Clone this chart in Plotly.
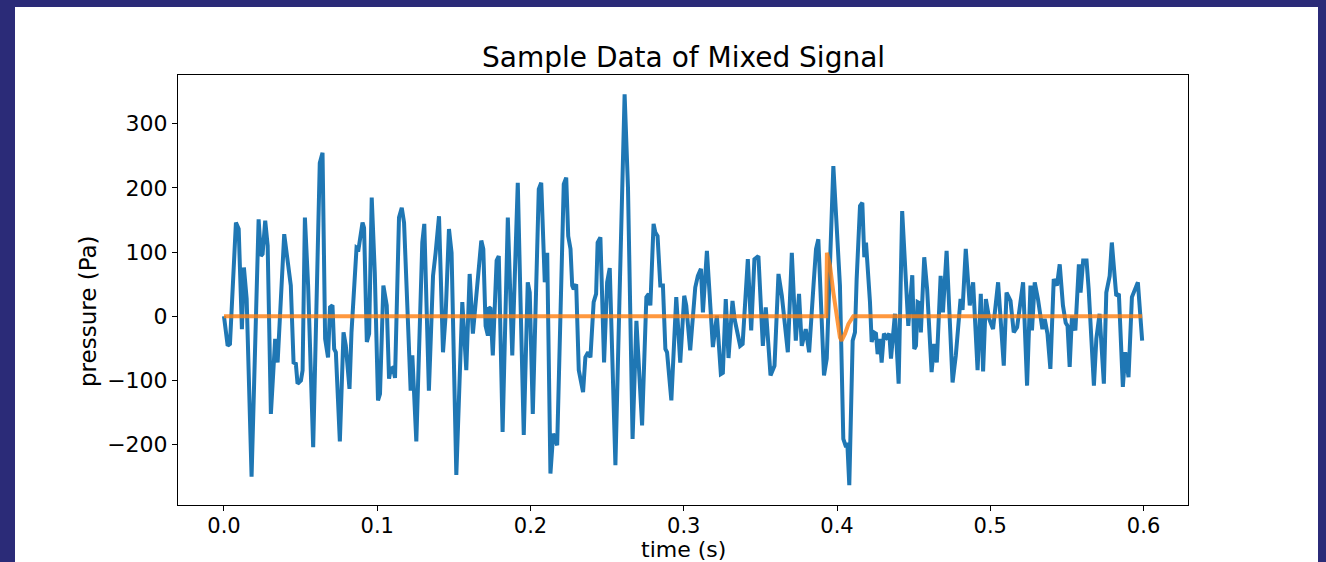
import plotly.graph_objects as go

# Mixed signal (blue): time in ms, pressure in Pa
mixed_t_ms = [0.0, 2.4, 3.9, 7.8, 9.6, 11.7, 13.0, 14.8, 18.0, 22.6, 24.1, 25.2, 26.9, 28.5, 30.6, 33.4, 35.0,
              39.3, 43.6, 45.4, 46.9, 48.0, 50.2, 51.3, 52.8, 54.9, 58.2, 62.5, 64.3, 66.0, 67.9, 69.2, 70.8,
              71.9, 73.0, 75.6, 78.0, 79.5, 81.9, 83.2, 86.5, 87.8, 90.4, 91.4, 93.2, 94.7, 96.4, 98.4, 100.5,
              101.8, 104.0, 106.2, 107.7, 108.8, 110.3, 111.6, 114.2, 116.0, 117.5, 121.8, 122.9, 125.5, 129.4,
              130.7, 133.7, 136.4, 138.1, 140.3, 142.9, 144.6, 146.8, 148.5, 151.6, 155.5, 158.1, 160.3, 162.4,
              165.3, 167.9, 169.2, 170.7, 172.2, 172.8, 173.9, 175.4, 177.9, 179.3, 181.8, 185.2, 188.1, 191.7,
              193.5, 195.6, 198.2, 199.5, 201.5, 205.4, 207.0, 209.3, 210.9, 213.0, 214.8, 217.4, 221.7, 223.3,
              224.6, 226.1, 227.2, 228.2, 229.8, 231.5, 234.3, 235.8, 237.6, 239.1, 241.2, 242.8, 243.8, 245.6,
              248.0, 250.0, 251.7, 255.4, 258.0, 261.4, 263.6, 266.6, 269.1, 272.8, 275.6, 277.1, 278.2, 280.3,
              281.4, 282.9, 284.7, 286.4, 288.0, 289.1, 291.9, 295.1, 297.7, 300.3, 301.6, 304.2, 307.5, 309.2,
              311.2, 312.5, 315.1, 317.3, 319.0, 321.6, 324.2, 325.5, 327.4, 329.2, 331.8, 333.2, 336.8, 338.4,
              341.8, 344.0, 346.1, 348.7, 351.6, 353.5, 356.6, 359.2, 361.8, 364.0, 365.0, 367.9, 370.5, 373.1,
              375.2, 377.0, 379.6, 381.8, 384.7, 386.3, 387.8, 391.5, 393.3, 397.6, 401.9, 404.1, 405.9, 406.7,
              408.0, 410.2, 411.7, 412.8, 415.0, 416.5, 417.8, 418.9, 421.5, 422.6, 424.1, 425.4, 426.5, 428.0,
              429.1, 430.6, 432.4, 434.1, 435.2, 436.3, 437.8, 440.2, 442.5, 446.5, 449.1, 450.4, 451.5, 452.6,
              454.1, 454.7, 456.9, 458.8, 461.7, 463.4, 465.1, 467.6, 469.1, 471.5, 475.4, 477.5, 480.6, 481.9,
              484.0, 486.6, 488.8, 491.7, 493.8, 495.3, 497.1, 499.3, 501.8, 505.1, 508.8, 510.6, 513.2, 515.3,
              517.5, 521.4, 524.0, 526.2, 527.2, 529.0, 531.1, 534.0, 535.5, 537.3, 539.2, 541.4, 543.5, 545.3,
              547.4, 549.2, 550.4, 551.8, 553.3, 555.5, 557.8, 558.9, 560.6, 562.8, 564.2, 567.6, 569.2, 571.3,
              574.1, 575.7, 577.9, 579.3, 582.2, 583.9, 586.5, 588.1, 590.2, 592.4, 596.3, 599.1]
mixed_pa = [0, -46, -43, 146, 136, -20, 76, 27, -250, 151, 94, 97, 149, 110, -152, -35, -72,
            128, 48, -72, -74, -105, -100, -84, 154, 48, -204, 239, 255, -35, -64, 14, 17,
            -51, -56, -195, -25, -46, -113, -25, 107, 105, 146, 138, -40, -27, 185, 68, -131,
            -121, 48, 17, -97, -82, -80, -96, 154, 169, 146, -116, -61, -195, 115,
            144, -116, 63, 99, 156, -56, 1, 136, 99, -247, 22, -84, 66, -27,
            53, 118, 105, -15, -30, 14, 12, -61, 87, 94, -180, 154, -61, 208,
            22, -185, 53, 37, -152, 198, 208, 53, 99, -245, -183, -201, 206, 216,
            125, 105, 48, 42, 50, -84, -118, -64, -56, -64, 22, 35, 115, 123,
            -72, 53, 75, -232, 22, 346, 201, -191, -7, -170, 30, 35, 17, 144,
            131, 125, 48, 48, -51, -56, -131, 30, -72, 32, 17, -53, 45, 63,
            74, 6, 102, 17, -48, 1, -90, -88, 27, -65, 24, -5, -46, -43,
            89, -22, 89, 94, -46, 14, -92, -77, 66, 32, 11, -56, 99, -38,
            35, -46, -20, -56, 50, 105, 120, -92, -66, 234, 48, -191, -204, -197,
            -263, -38, -25, 58, 172, 177, 92, 115, 22, -40, -25, -27, -59, -35,
            -72, -27, -33, -27, -66, -27, 4, -105, 164, -15, 64, -51, -46, 22,
            20, -25, 92, 42, -87, -43, -72, 63, 6, 102, -103, -61, 27, 10,
            105, 17, 53, -84, 35, -86, 27, -4, -20, 53, -77, 37, 24, -25,
            -17, 53, -108, 48, -22, 53, 27, -20, -4, -27, -82, 58, 48, 81,
            17, -10, -15, -79, 1, -22, 81, 37, 87, 87, 42, -108, -35, 4,
            -105, 37, 63, 115, 32, 35, -110, -56, -95, 30, 53, -38]

# Pulse signal (orange): time in ms, pressure in Pa
pulse_t_ms = [0.0, 393.0, 393.4, 395.4, 397.6, 399.8, 401.9, 403.0, 405.2, 407.4, 409.6, 410.6, 599.1]
pulse_pa = [0, 0, 99, 79, 37, -4, -33, -38, -27, -12, -2, 0, 0]

x_ticks = [0.0, 0.1, 0.2, 0.3, 0.4, 0.5, 0.6]
x_tick_text = ["0.0", "0.1", "0.2", "0.3", "0.4", "0.5", "0.6"]
y_ticks = [-200, -100, 0, 100, 200, 300]
y_tick_text = ["\u2212200", "\u2212100", "0", "100", "200", "300"]

mixed_t = [t / 1000 for t in mixed_t_ms]
pulse_t = [t / 1000 for t in pulse_t_ms]

W, H = 1326, 562
L, R, T, B = 178, 1188, 75, 505
pw, ph = R - L, B - T

def px_x(p):
    return (p - L) / pw

def px_y(p):
    return (B - p) / ph

fig = go.Figure()
fig.add_trace(go.Scatter(x=mixed_t, y=mixed_pa, mode="lines",
                         line=dict(color="#1f77b4", width=4), showlegend=False))
fig.add_trace(go.Scatter(x=pulse_t, y=pulse_pa, mode="lines", opacity=0.8,
                         line=dict(color="#ff7f0e", width=4), showlegend=False))

font = "DejaVu Sans, Arial, sans-serif"
axis_common = dict(showgrid=False, zeroline=False, showline=True, mirror=True,
                   linecolor="black", linewidth=1, ticks="outside", ticklen=5,
                   tickcolor="black", tickwidth=1)

fig.update_layout(
    width=W, height=H,
    margin=dict(l=L, r=W - R, t=T, b=H - B, autoexpand=False),
    paper_bgcolor="#2b2b78",
    plot_bgcolor="white",
    xaxis=dict(range=[-0.03, 0.629], tickvals=x_ticks, ticktext=x_tick_text,
               ticklabelstandoff=-3,
               tickfont=dict(family=font, size=21, color="black"), **axis_common),
    yaxis=dict(range=[-294, 376], tickvals=y_ticks, ticktext=y_tick_text,
               tickfont=dict(family=font, size=22, color="black"), **axis_common),
    shapes=[dict(type="rect", xref="paper", yref="paper", layer="below",
                 x0=px_x(15), x1=px_x(1318), y0=px_y(600), y1=px_y(7),
                 fillcolor="white", line=dict(width=0))],
    annotations=[
        dict(text="Sample Data of Mixed Signal", xref="paper", yref="paper",
             x=0.5, y=px_y(57), xanchor="center", yanchor="middle", showarrow=False,
             font=dict(family=font, size=28, color="black")),
        dict(text="time (s)", xref="paper", yref="paper",
             x=0.5, y=px_y(549), xanchor="center", yanchor="middle", showarrow=False,
             font=dict(family=font, size=22, color="black")),
        dict(text="pressure (Pa)", xref="paper", yref="paper",
             x=px_x(88), y=px_y(311), xanchor="center", yanchor="middle", showarrow=False,
             textangle=-90, font=dict(family=font, size=23, color="black")),
    ],
)

fig.write_html(
    "out.html",
    config={"displayModeBar": False},
    post_script="document.body.style.margin='0';document.body.style.overflow='hidden';"
                "document.documentElement.style.overflow='hidden';",
)
